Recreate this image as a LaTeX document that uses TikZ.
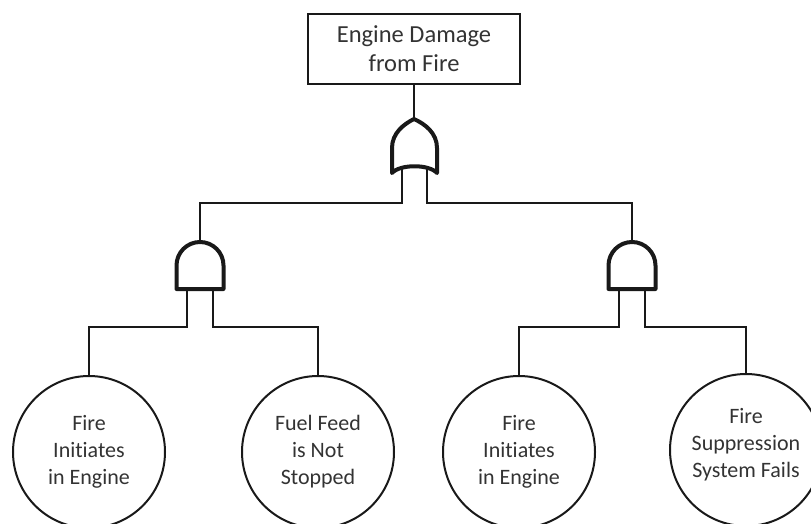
\documentclass[tikz,border=0pt]{standalone}
\usepackage{fontspec}
\setmainfont{Carlito}[Ligatures={NoCommon}]

\begin{document}
\begin{tikzpicture}[x=1pt, y=-1pt,
    event/.style ={rectangle, draw=black!90, line width=2pt, minimum width=212pt, minimum height=70pt, align=center, text=black!80, font=\fontsize{24.5}{29}\selectfont},
    basic/.style ={circle, draw=black!90, line width=2pt, minimum size=152pt, inner sep=0pt, align=center, text=black!80, font=\fontsize{22}{27}\selectfont},
    gate/.style ={draw=black!90, line width=4pt, line join=round},
    wire/.style ={draw=black!90, line width=2pt}]
   \useasboundingbox (0,0) rectangle (811,524);
   \clip (0,0) rectangle (811,524);

   \node[event] (top) at (414,49) {Engine Damage\\from Fire};
   \node[basic] (e1) at (89,452)  {Fire\\Initiates\\in Engine};
   \node[basic] (e2) at (318,452) {Fuel Feed\\is Not\\Stopped};
   \node[basic] (e3) at (519,452) {Fire\\Initiates\\in Engine};
   \node[basic] (e4) at (746,450) {Fire\\Suppression\\System Fails\\[-12pt]};

   \coordinate (or-out) at (414,119);
   \coordinate (or-in1) at (402,168);
   \coordinate (or-in2) at (427,168);
   \coordinate (and1-out) at (200,242);
   \coordinate (and1-in1) at (187,289);
   \coordinate (and1-in2) at (213,289);
   \coordinate (and2-out) at (632,242);
   \coordinate (and2-in1) at (619,289);
   \coordinate (and2-in2) at (645,289);

   \draw[wire] (top.south) -- (or-out);
   \draw[wire] (or-in1) -- ++(0,35) -| (and1-out);
   \draw[wire] (or-in2) -- ++(0,35) -| (and2-out);
   \draw[wire] (and1-in1) -- ++(0,38) -| (e1.north);
   \draw[wire] (and1-in2) -- ++(0,38) -| (e2.north);
   \draw[wire] (and2-in1) -- ++(0,38) -| (e3.north);
   \draw[wire] (and2-in2) -- ++(0,38) -| (e4.north);

   % or gate
   \draw[gate] (414,119) .. controls (404,124) and (392,133) .. (392,148) -- (392,173)
      .. controls (400,164) and (429,164) .. (437,173) -- (437,148)
      .. controls (437,133) and (425,124) .. (414,119) -- cycle;
   % and gates
   \draw[gate] (176.5,289) -- (176.5,265.5) arc[start angle=180, end angle=360, radius=23.5] -- (223.5,289) -- cycle;
   \draw[gate] (608.5,289) -- (608.5,265.5) arc[start angle=180, end angle=360, radius=23.5] -- (655.5,289) -- cycle;
\end{tikzpicture}
\end{document}
